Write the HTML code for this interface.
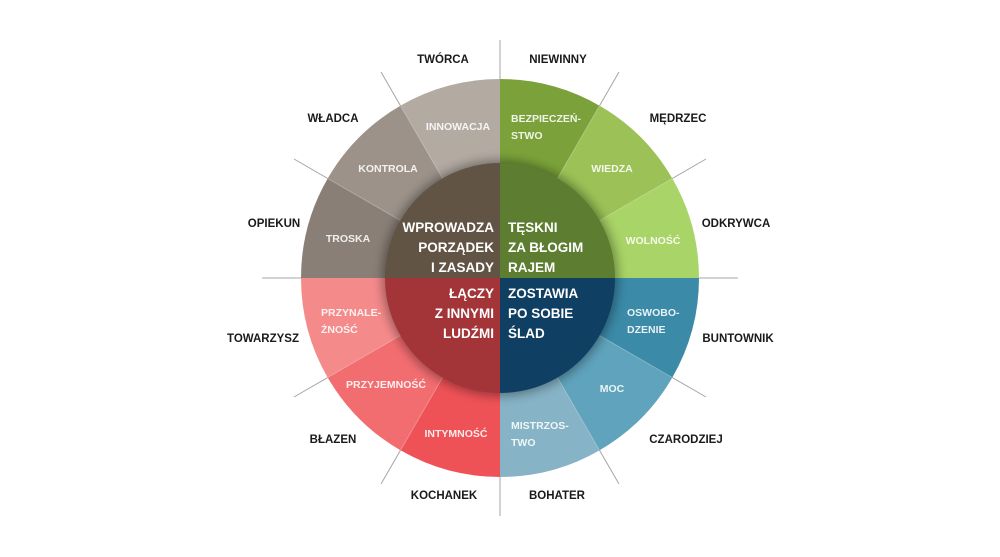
<!DOCTYPE html>
<html><head><meta charset="utf-8"><style>
html,body{margin:0;padding:0;background:#fff;}
svg{display:block;}
text{font-family:"Liberation Sans",sans-serif;font-weight:bold;}
.o{font-size:11.5px;fill:#1a1a1a;text-anchor:middle;}
.w{font-size:10.5px;fill:#fff;fill-opacity:0.88;}
.c{font-size:13.5px;fill:#fff;}
</style></head><body>
<svg width="1000" height="557" viewBox="0 0 1000 557">
<defs>
<filter id="sh" x="-30%" y="-30%" width="160%" height="160%"><feGaussianBlur stdDeviation="5"/></filter>
</defs>
<g transform="translate(500,278)">
<g stroke="#a5a5a5" stroke-width="1">
<line x1="0" y1="-238" x2="0" y2="238"/>
<line x1="-238" y1="0" x2="238" y2="0"/>
<line x1="-119" y1="-206" x2="119" y2="206"/>
<line x1="119" y1="-206" x2="-119" y2="206"/>
<line x1="-206" y1="-119" x2="206" y2="119"/>
<line x1="206" y1="-119" x2="-206" y2="119"/>
</g>
<g>
<path d="M0,0 L0,-199 A199,199 0 0 1 99.5,-172.3 Z" fill="#7ba23a"/>
<path d="M0,0 L0,-199 A199,199 0 0 1 99.5,-172.3 Z" fill="#9cc257" transform="rotate(30)"/>
<path d="M0,0 L0,-199 A199,199 0 0 1 99.5,-172.3 Z" fill="#a9d467" transform="rotate(60)"/>
<path d="M0,0 L0,-199 A199,199 0 0 1 99.5,-172.3 Z" fill="#3b8aa8" transform="rotate(90)"/>
<path d="M0,0 L0,-199 A199,199 0 0 1 99.5,-172.3 Z" fill="#5fa3bc" transform="rotate(120)"/>
<path d="M0,0 L0,-199 A199,199 0 0 1 99.5,-172.3 Z" fill="#86b3c6" transform="rotate(150)"/>
<path d="M0,0 L0,-199 A199,199 0 0 1 99.5,-172.3 Z" fill="#ee5257" transform="rotate(180)"/>
<path d="M0,0 L0,-199 A199,199 0 0 1 99.5,-172.3 Z" fill="#f26d70" transform="rotate(210)"/>
<path d="M0,0 L0,-199 A199,199 0 0 1 99.5,-172.3 Z" fill="#f58a8b" transform="rotate(240)"/>
<path d="M0,0 L0,-199 A199,199 0 0 1 99.5,-172.3 Z" fill="#8a7f77" transform="rotate(270)"/>
<path d="M0,0 L0,-199 A199,199 0 0 1 99.5,-172.3 Z" fill="#9c928a" transform="rotate(300)"/>
<path d="M0,0 L0,-199 A199,199 0 0 1 99.5,-172.3 Z" fill="#b3aba2" transform="rotate(330)"/>
</g>
<g stroke="#ffffff" stroke-opacity="0.25" stroke-width="1">
<line x1="-99.5" y1="-172.3" x2="99.5" y2="172.3"/>
<line x1="99.5" y1="-172.3" x2="-99.5" y2="172.3"/>
<line x1="-172.3" y1="-99.5" x2="172.3" y2="99.5"/>
<line x1="172.3" y1="-99.5" x2="-172.3" y2="99.5"/>
</g>
<circle r="118" fill="#000" opacity="0.35" filter="url(#sh)"/>
<path d="M0,0 L0,-115 A115,115 0 0 1 115,0 Z" fill="#5d7d30"/>
<path d="M0,0 L115,0 A115,115 0 0 1 0,115 Z" fill="#0f3f63"/>
<path d="M0,0 L0,115 A115,115 0 0 1 -115,0 Z" fill="#a33438"/>
<path d="M0,0 L-115,0 A115,115 0 0 1 0,-115 Z" fill="#625445"/>
</g>
<text class="o" x="443" y="63">TWÓRCA</text>
<text class="o" x="558" y="63">NIEWINNY</text>
<text class="o" x="333" y="122">WŁADCA</text>
<text class="o" x="678" y="122">MĘDRZEC</text>
<text class="o" x="274" y="227">OPIEKUN</text>
<text class="o" x="736" y="227">ODKRYWCA</text>
<text class="o" x="263" y="342">TOWARZYSZ</text>
<text class="o" x="738" y="342">BUNTOWNIK</text>
<text class="o" x="333" y="443">BŁAZEN</text>
<text class="o" x="686" y="443">CZARODZIEJ</text>
<text class="o" x="444" y="499">KOCHANEK</text>
<text class="o" x="557" y="499">BOHATER</text>
<text class="w" x="458" y="130" text-anchor="middle">INNOWACJA</text>
<text class="w" x="511" y="122">BEZPIECZEŃ-</text>
<text class="w" x="511" y="139">STWO</text>
<text class="w" x="388" y="172" text-anchor="middle">KONTROLA</text>
<text class="w" x="612" y="172" text-anchor="middle">WIEDZA</text>
<text class="w" x="348" y="242" text-anchor="middle">TROSKA</text>
<text class="w" x="653" y="244" text-anchor="middle">WOLNOŚĆ</text>
<text class="w" x="321" y="316">PRZYNALE-</text>
<text class="w" x="321" y="333">ŻNOŚĆ</text>
<text class="w" x="627" y="316">OSWOBO-</text>
<text class="w" x="627" y="333">DZENIE</text>
<text class="w" x="386" y="388" text-anchor="middle">PRZYJEMNOŚĆ</text>
<text class="w" x="612" y="392" text-anchor="middle">MOC</text>
<text class="w" x="456" y="437" text-anchor="middle">INTYMNOŚĆ</text>
<text class="w" x="511" y="429">MISTRZOS-</text>
<text class="w" x="511" y="446">TWO</text>
<text class="c" x="494" y="232" text-anchor="end">WPROWADZA</text>
<text class="c" x="494" y="252" text-anchor="end">PORZĄDEK</text>
<text class="c" x="494" y="272" text-anchor="end">I ZASADY</text>
<text class="c" x="508" y="232">TĘSKNI</text>
<text class="c" x="508" y="252">ZA BŁOGIM</text>
<text class="c" x="508" y="272">RAJEM</text>
<text class="c" x="494" y="298" text-anchor="end">ŁĄCZY</text>
<text class="c" x="494" y="318" text-anchor="end">Z INNYMI</text>
<text class="c" x="494" y="338" text-anchor="end">LUDŹMI</text>
<text class="c" x="508" y="298">ZOSTAWIA</text>
<text class="c" x="508" y="318">PO SOBIE</text>
<text class="c" x="508" y="338">ŚLAD</text>
</svg>
</body></html>
